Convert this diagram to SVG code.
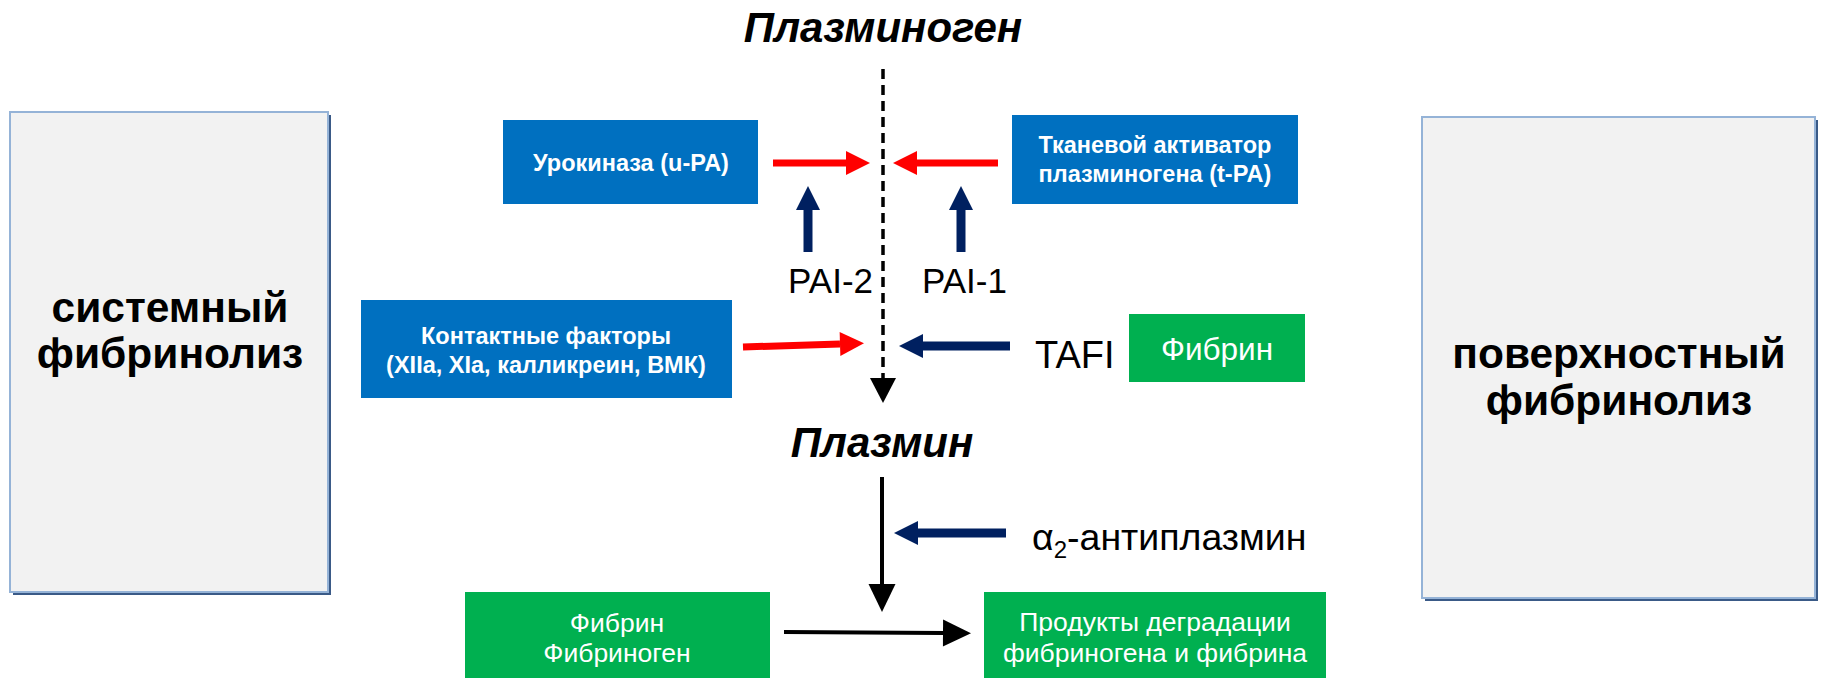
<svg xmlns="http://www.w3.org/2000/svg" width="1825" height="678" viewBox="0 0 1825 678">
<defs>
<style>
.panel{fill:#F2F2F2;stroke:#95B3D7;stroke-width:2}
.shadow{fill:#3A5A87}
.big{font-family:"Liberation Sans",Arial,sans-serif;font-weight:bold;font-size:42.5px;fill:#000;text-anchor:middle}
.title{font-family:"Liberation Sans",Arial,sans-serif;font-weight:bold;font-style:italic;font-size:42px;fill:#000;text-anchor:middle}
.blue{fill:#0070C0}
.green{fill:#00B050}
.bt{font-family:"Liberation Sans",Arial,sans-serif;font-weight:bold;font-size:23.5px;fill:#fff;text-anchor:middle}
.gt{font-family:"Liberation Sans",Arial,sans-serif;font-size:26.5px;fill:#fff;text-anchor:middle}
.lbl{font-family:"Liberation Sans",Arial,sans-serif;font-size:35px;fill:#000}
.red{stroke:#FF0000;stroke-width:7;fill:none}
.navy{stroke:#002060;stroke-width:9;fill:none}
.blk{stroke:#000;stroke-width:4;fill:none}
</style>
<marker id="hr" markerUnits="userSpaceOnUse" markerWidth="24" markerHeight="24" viewBox="0 -12 24 24" refX="0" refY="0" orient="auto" overflow="visible"><path d="M0,-12 L24,0 L0,12 z" fill="#FF0000"/></marker>
<marker id="hn" markerUnits="userSpaceOnUse" markerWidth="24" markerHeight="24" viewBox="0 -12 24 24" refX="0" refY="0" orient="auto" overflow="visible"><path d="M0,-12 L24,0 L0,12 z" fill="#002060"/></marker>
<marker id="hb" markerUnits="userSpaceOnUse" markerWidth="28" markerHeight="28" viewBox="0 -13 27 26" refX="0" refY="0" orient="auto" overflow="visible"><path d="M0,-13 L27,0 L0,13 z" fill="#000"/></marker>
</defs>
<rect width="1825" height="678" fill="#fff"/>

<g id="systemic">
<rect class="shadow" x="13" y="115" width="318" height="480"/>
<rect class="panel" x="10" y="112" width="318" height="480"/>
<text class="big" x="170" y="322">системный</text>
<text class="big" x="170" y="368">фибринолиз</text>
</g>

<g id="surface">
<rect class="shadow" x="1425" y="120" width="393" height="481"/>
<rect class="panel" x="1422" y="117" width="393" height="481"/>
<text class="big" x="1619" y="368">поверхностный</text>
<text class="big" x="1619" y="415">фибринолиз</text>
</g>

<g id="plasminogen"><text class="title" x="883" y="42">Плазминоген</text></g>
<g id="plasmin"><text class="title" x="882" y="457">Плазмин</text></g>

<g id="upa">
<rect class="blue" x="503" y="120" width="255" height="84"/>
<text class="bt" x="631" y="171">Урокиназа (u-PA)</text>
</g>

<g id="tpa">
<rect class="blue" x="1012" y="115" width="286" height="89"/>
<text class="bt" x="1155" y="153">Тканевой активатор</text>
<text class="bt" x="1155" y="182">плазминогена (t-PA)</text>
</g>

<g id="contact">
<rect class="blue" x="361" y="300" width="371" height="98"/>
<text class="bt" x="546" y="344">Контактные факторы</text>
<text class="bt" x="546" y="373">(XIIa, XIa, калликреин, ВМК)</text>
</g>

<g id="pai2"><text class="lbl" x="873" y="293" text-anchor="end">PAI-2</text></g>
<g id="pai1"><text class="lbl" x="922" y="293">PAI-1</text></g>
<g id="tafi"><text class="lbl" x="1035" y="368" style="font-size:38px">TAFI</text></g>

<g id="fibrin-surface">
<rect class="green" x="1129" y="314" width="176" height="68"/>
<text class="gt" x="1217" y="360" style="font-size:31.5px">Фибрин</text>
</g>

<g id="antiplasmin"><text class="lbl" x="1032" y="550" style="font-size:37.5px">α<tspan dy="8" style="font-size:24px">2</tspan><tspan dy="-8">-антиплазмин</tspan></text></g>

<g id="substrate">
<rect class="green" x="465" y="592" width="305" height="86"/>
<text class="gt" x="617" y="632">Фибрин</text>
<text class="gt" x="617" y="662">Фибриноген</text>
</g>

<g id="products">
<rect class="green" x="984" y="592" width="342" height="86"/>
<text class="gt" x="1155" y="631">Продукты деградации</text>
<text class="gt" x="1155" y="662">фибриногена и фибрина</text>
</g>

<g id="connectors">
<line x1="883" y1="69" x2="883" y2="378" stroke="#000" stroke-width="3.5" stroke-dasharray="10 6"/>
<path d="M870,378 L896,378 L883,403 z" fill="#000"/>
<line class="red" x1="773" y1="163" x2="846" y2="163" marker-end="url(#hr)"/>
<line class="red" x1="998" y1="163" x2="917" y2="163" marker-end="url(#hr)"/>
<line class="navy" x1="808" y1="252" x2="808" y2="210" marker-end="url(#hn)"/>
<line class="navy" x1="961" y1="252" x2="961" y2="210" marker-end="url(#hn)"/>
<line class="red" x1="743" y1="347" x2="840" y2="344" marker-end="url(#hr)"/>
<line class="navy" x1="1010" y1="346" x2="923" y2="346" stroke-width="8" marker-end="url(#hn)"/>
<line class="navy" x1="1006" y1="533" x2="918" y2="533" stroke-width="8" marker-end="url(#hn)"/>
<line class="blk" x1="882" y1="477" x2="882" y2="584" marker-end="url(#hb)"/>
<line class="blk" x1="784" y1="632" x2="943" y2="633" marker-end="url(#hb)"/>
</g>
</svg>
